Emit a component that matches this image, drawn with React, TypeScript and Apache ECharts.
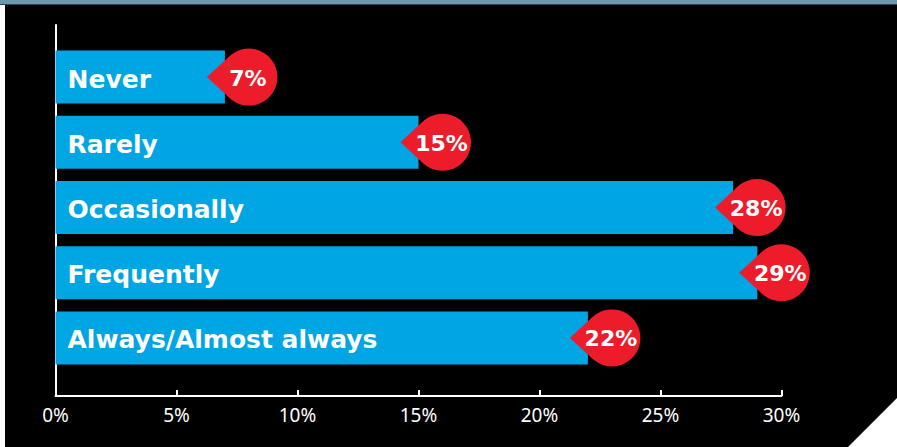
import React, { useEffect, useRef } from "react";
import * as echarts from "echarts";

const categories = ["Never", "Rarely", "Occasionally", "Frequently", "Always/Almost always"];
const values = [7, 15, 28, 29, 22];
const xTicks = [0, 5, 10, 15, 20, 25, 30];

const BAR_COLOR = "#00a5e3";
const BADGE_COLOR = "#ec1c2a";

export default function App() {
  const ref = useRef<HTMLDivElement>(null);
  useEffect(() => {
    if (!ref.current) return;
    const chart = echarts.init(ref.current, null, { renderer: "svg" });
    const R = 28.5;
    const TIP = 42;
    const ang = Math.acos(R / TIP);
    const option: any = {
      animation: false,
      backgroundColor: "#ffffff",
      graphic: [
        { type: "rect", z: -20, shape: { x: 5, y: 0, width: 892, height: 447 }, style: { fill: "#000000" } },
        { type: "rect", z: -10, shape: { x: 0, y: 0, width: 897, height: 4 }, style: { fill: "#6a97a9" } },
        { type: "rect", z: -10, shape: { x: 0, y: 4, width: 897, height: 1 }, style: { fill: "#2e4650" } },
        {
          type: "polygon",
          z: 100,
          shape: { points: [[847, 448], [898, 397], [898, 448]] },
          style: { fill: "#ffffff" },
        },
      ],
      grid: [
        { left: 55.5, right: 115.5, top: 44.5, bottom: 76.5 },
        { left: 55.5, right: 115.5, top: 25, bottom: 51 },
      ],
      xAxis: [
        { gridIndex: 0, type: "value", min: 0, max: 30, show: false },
        {
          gridIndex: 1,
          type: "value",
          min: xTicks[0],
          max: xTicks[xTicks.length - 1],
          interval: 5,
          axisLine: { show: true, onZero: false, lineStyle: { color: "#ffffff", width: 2 } },
          axisTick: { show: true, inside: true, length: 6, lineStyle: { color: "#ffffff", width: 2 } },
          splitLine: { show: false },
          axisLabel: {
            color: "#ffffff",
            fontSize: 19,
            fontFamily: "Noto Sans",
            margin: 9,
            formatter: (v: number) => `${v}%`,
          },
        },
      ],
      yAxis: [
        { gridIndex: 0, type: "category", data: categories, inverse: true, show: false },
        {
          gridIndex: 1,
          type: "value",
          min: 0,
          max: 1,
          axisLine: { show: true, onZero: false, lineStyle: { color: "#ffffff", width: 2 } },
          axisTick: { show: false },
          axisLabel: { show: false },
          splitLine: { show: false },
        },
      ],
      series: [
        {
          type: "bar",
          xAxisIndex: 0,
          yAxisIndex: 0,
          data: values,
          barWidth: 53,
          itemStyle: { color: BAR_COLOR },
          label: {
            show: true,
            position: "insideLeft",
            distance: 12,
            offset: [0, 2],
            formatter: "{b}",
            color: "#ffffff",
            fontWeight: "bold",
            fontSize: 25,
            fontFamily: "DejaVu Sans",
          },
        },
        {
          type: "custom",
          xAxisIndex: 0,
          yAxisIndex: 0,
          clip: false,
          z: 5,
          data: values.map((v, i) => [v, i]),
          encode: { x: 0, y: 1 },
          renderItem: (params: any, api: any) => {
            const v = api.value(0);
            const idx = api.value(1);
            const end = api.coord([v, idx]);
            const cx = end[0] + 24;
            const cy = end[1];
            const px = cx + R * Math.cos(Math.PI - ang);
            const py = R * Math.sin(Math.PI - ang);
            return {
              type: "group",
              children: [
                {
                  type: "polygon",
                  shape: { points: [[cx - TIP, cy], [px, cy - py], [px, cy + py]] },
                  style: { fill: BADGE_COLOR },
                },
                { type: "circle", shape: { cx, cy, r: R }, style: { fill: BADGE_COLOR } },
                {
                  type: "text",
                  x: cx - 1,
                  y: cy + 1,
                  style: {
                    text: `${v}%`,
                    fill: "#ffffff",
                    font: "bold 22px 'DejaVu Sans'",
                    align: "center",
                    verticalAlign: "middle",
                  },
                },
              ],
            };
          },
        },
      ],
    };
    chart.setOption(option);
    return () => chart.dispose();
  }, []);
  return (
    <div
      ref={ref}
      style={{ position: "fixed", left: 0, top: 0, width: 897, height: 447 }}
    />
  );
}
